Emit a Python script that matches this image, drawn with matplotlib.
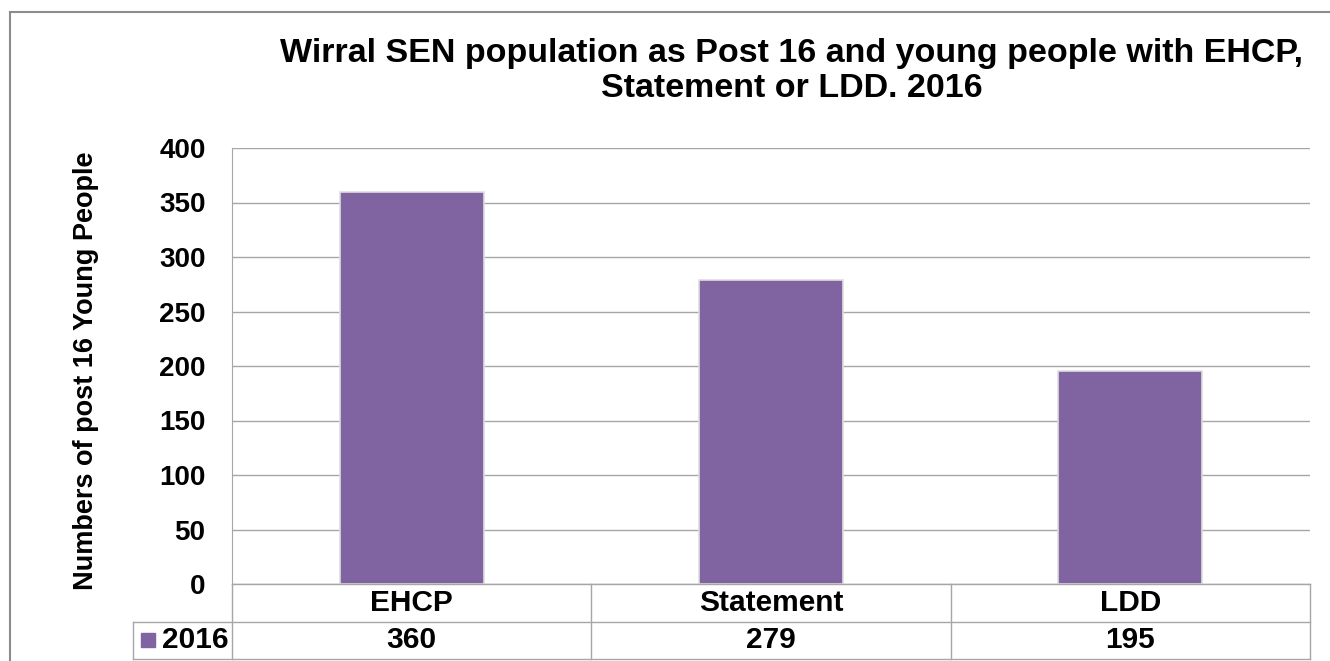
import matplotlib
matplotlib.use("Agg")
import matplotlib.pyplot as plt
from matplotlib.patches import Rectangle
from matplotlib.lines import Line2D

plt.rcParams['font.family'] = ['Liberation Sans', 'DejaVu Sans']
plt.rcParams['font.weight'] = 'bold'

categories = ['EHCP', 'Statement', 'LDD']
values_2016 = [360, 279, 195]
series_name = '2016'
title_lines = ['Wirral SEN population as Post 16 and young people with EHCP,',
               'Statement or LDD. 2016']
y_label = 'Numbers of post 16 Young People'
y_ticks = [0, 50, 100, 150, 200, 250, 300, 350, 400]

BAR_COLOR = '#8064A2'
GRID = '#a6a6a6'
BORDER = '#8c8c8c'

W, H = 1330, 661
fig = plt.figure(figsize=(W / 100, H / 100), dpi=100)

# pixel positions of the plot area
px_left, px_right = 232, 1310
px_top, px_zero = 148, 584
px_table_bottom = 659
px_rowlab_left = 133

def fx(x):
    return x / W

def fy(y):
    return 1 - y / H

ax = fig.add_axes([fx(px_left), fy(px_zero), fx(px_right - px_left),
                   (px_zero - px_top) / H])
xpos = list(range(len(categories)))
ax.bar(xpos, values_2016, width=0.4, color=BAR_COLOR,
       edgecolor='#dedede', linewidth=1.2, zorder=3)
ax.set_xlim(-0.5, len(categories) - 0.5)
ax.set_ylim(0, 400)
ax.set_yticks(y_ticks)
ax.set_yticklabels([str(t) for t in y_ticks], fontsize=20, fontweight='bold')
ax.set_xticks([])
ax.tick_params(axis='y', length=0, pad=19)
ax.yaxis.grid(True, color=GRID, linewidth=1)
ax.set_axisbelow(True)
for s in ['top', 'right', 'bottom']:
    ax.spines[s].set_visible(False)
ax.spines['left'].set_color(GRID)
ax.set_ylabel(y_label, fontsize=19.5, fontweight='bold')
ax.yaxis.set_label_coords(-0.123, 0.49)

# data table under the plot
tab = fig.add_axes([fx(px_left), fy(px_table_bottom), fx(px_right - px_left),
                    (px_table_bottom - px_zero) / H], sharex=ax)
tab.set_ylim(0, 2)
tab.axis('off')
col_w_px = (px_right - px_left) / len(categories)
x_rowlab = -0.5 - (px_left - px_rowlab_left) / col_w_px
n = len(categories)
lk = dict(color=GRID, linewidth=1, clip_on=False)
tab.plot([-0.5, n - 0.5], [2, 2], **lk)
tab.plot([x_rowlab, n - 0.5], [1, 1], **lk)
tab.plot([x_rowlab, n - 0.5], [0, 0], **lk)
for i in range(n + 1):
    tab.plot([i - 0.5, i - 0.5], [0, 2], **lk)
tab.plot([x_rowlab, x_rowlab], [0, 1], **lk)
for i, (c, v) in enumerate(zip(categories, values_2016)):
    tab.text(i, 1.5, c, ha='center', va='center', fontsize=21.5, fontweight='bold')
    tab.text(i, 0.5, str(v), ha='center', va='center', fontsize=21.5, fontweight='bold')
# legend key in the row label cell
key_w = 14 / col_w_px
tab.add_patch(Rectangle((x_rowlab + 8 / col_w_px, 0.32), key_w, 0.37,
                        color=BAR_COLOR, clip_on=False))
tab.text(x_rowlab + 29 / col_w_px, 0.5, series_name, ha='left', va='center',
         fontsize=21.5, fontweight='bold')

# title
fig.text(fx(792), fy(62), title_lines[0], ha='center', va='baseline',
         fontsize=24.5, fontweight='bold')
fig.text(fx(792), fy(97), title_lines[1], ha='center', va='baseline',
         fontsize=24.5, fontweight='bold')

# outer chart border (left and top visible)
fig.add_artist(Line2D([fx(10), fx(10)], [fy(12), 0], color=BORDER,
                      linewidth=1.5, transform=fig.transFigure))
fig.add_artist(Line2D([fx(10), 1], [fy(12), fy(12)], color=BORDER,
                      linewidth=1.5, transform=fig.transFigure))

fig.savefig('out.png', dpi=100, facecolor='white')
